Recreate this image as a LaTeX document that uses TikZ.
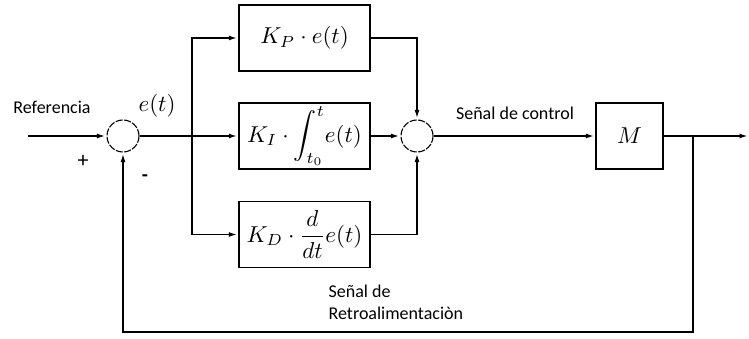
\documentclass[tikz,border=0pt]{standalone}
\usepackage{graphicx}
\usepackage{fontspec}
\setsansfont{Carlito}
\usetikzlibrary{arrows.meta}
\newcommand{\pidmath}[1]{\scalebox{2.3}{$#1$}}
\begin{document}
\begin{tikzpicture}[x=1pt,y=-1pt,
  line width=1.3pt,
  arr/.style={-{Latex[length=8pt,width=5pt]},shorten >=1.5pt},
  sum/.style={circle,draw,line width=1.1pt,dash pattern=on 7pt off 1.5pt,minimum size=32pt,inner sep=0pt},
  blk/.style={draw,line width=1.4pt,minimum width=131pt,minimum height=66pt,inner sep=0pt},
  lbl/.style={font=\sffamily\fontsize{18}{22}\selectfont,inner sep=0pt}]
\useasboundingbox (0,0) rectangle (749,339);
\node[sum] (s1) at (123,136) {};
\node[sum] (s2) at (417,136) {};
\node[blk] (P) at (304.5,38) {\pidmath{K_P\cdot e(t)}};
\node[blk] (I) at (304.5,136) {\pidmath{K_I\cdot\displaystyle\int_{t_0}^{t}\! e(t)}};
\node[blk] (D) at (304.5,234.5) {\pidmath{K_D\cdot\displaystyle\frac{d}{dt}e(t)}};
\node[blk,minimum width=67pt] (M) at (629.5,136) {\pidmath{M}};
\coordinate (in) at (28,136);
\coordinate (bus) at (192,136);
\coordinate (out) at (749,136);
\coordinate (br) at (693,136);
\coordinate (fb) at (693,332);
\draw[arr] (in) -- (s1.west);
\draw (s1.east) -- (bus);
\draw[arr] (bus) -- (I.west);
\draw[arr] (bus) |- (P.west);
\draw[arr] (bus) |- (D.west);
\draw[arr] (P.east) -| (s2.north);
\draw[arr] (D.east) -| (s2.south);
\draw[arr] (I.east) -- (s2.west);
\draw[arr] (s2.east) -- (M.west);
\draw[arr] (M.east) -- (out);
\draw[arr] (br) -- (fb) -| (s1.south);
\node[lbl] (ref) at (52,107) {Referencia};
\node[lbl,font=\sffamily\fontsize{22}{22}\selectfont] (plus) at (83,161) {+};
\node[lbl,font=\sffamily\bfseries\fontsize{20}{22}\selectfont] (minus) at (145,178) {-};
\node[inner sep=0pt] (et) at (157,106) {\pidmath{e(t)}};
\node[lbl] (sc) at (515,113) {Señal de control};
\node[lbl,align=left,anchor=north west] (sr) at (328,284) {Señal de\\Retroalimentaciòn};
\end{tikzpicture}
\end{document}
